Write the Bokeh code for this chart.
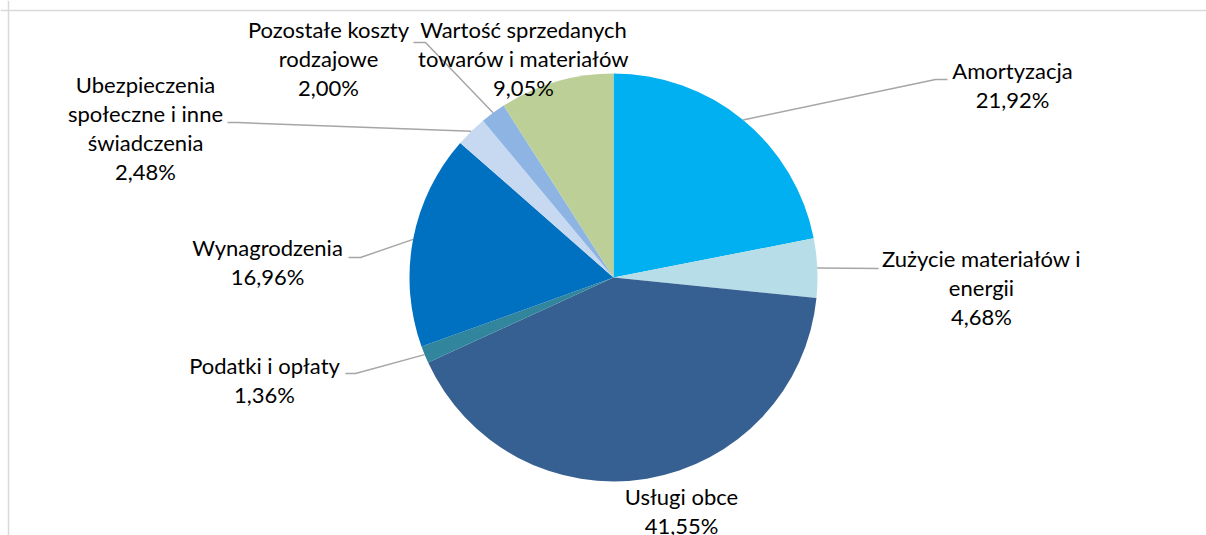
import math
from bokeh.plotting import figure
from bokeh.models import Range1d, ColumnDataSource, Span
from bokeh.core.properties import value
from bokeh.embed import file_html
from bokeh.resources import INLINE

# ---------------- data ----------------
categories = [
    "Amortyzacja",
    "Zużycie materiałów i energii",
    "Usługi obce",
    "Podatki i opłaty",
    "Wynagrodzenia",
    "Ubezpieczenia społeczne i inne świadczenia",
    "Pozostałe koszty rodzajowe",
    "Wartość sprzedanych towarów i materiałów",
]
wrapped_labels = [
    ["Amortyzacja"],
    ["Zużycie materiałów i", "energii"],
    ["Usługi obce"],
    ["Podatki i opłaty"],
    ["Wynagrodzenia"],
    ["Ubezpieczenia", "społeczne i inne", "świadczenia"],
    ["Pozostałe koszty", "rodzajowe"],
    ["Wartość sprzedanych", "towarów i materiałów"],
]
shares = [21.92, 4.68, 41.55, 1.36, 16.96, 2.48, 2.00, 9.05]
colors = ["#00B0F0", "#B7DEE8", "#376092", "#31859C",
          "#0070C0", "#C6D9F1", "#8EB4E3", "#BCCF97"]

# ---------------- layout (screen pixels) ----------------
W, H = 1206, 535


def Y(sy):
    return H - sy


CX, CY, R = 613, 277, 204
LINE_H = 29
TEXT_DY = -2
FONT = "Lato"
FONT_SIZE = "22px"

# label block: centre x, centre y of first line
label_pos = [
    (1012, 72),
    (981, 260),
    (681, 498),
    (264, 367),
    (267, 249),
    (145, 86),
    (328, 31),
    (523, 31),
]
# leader line points from label side (None = no leader)
leaders = [
    [(947, 79), (935, 79)],
    [(878, 268)],
    None,
    [(345, 373), (355, 373)],
    [(348, 257), (360, 257)],
    [(227, 122), (237, 122)],
    [(413, 42), (425, 42)],
    None,
]

p = figure(width=W, height=H, x_range=Range1d(0, W), y_range=Range1d(0, H),
           output_backend="svg", toolbar_location=None, min_border=0,
           x_axis_type=None, y_axis_type=None)
p.grid.visible = False
p.outline_line_color = None
p.background_fill_color = "white"
p.border_fill_color = "white"

# chart border (cropped: only top and left visible)
p.add_layout(Span(location=Y(10), dimension="width", line_color="#D9D9D9", line_width=1.5))
p.add_layout(Span(location=8, dimension="height", line_color="#D9D9D9", line_width=1.5))

# wedges
total = sum(shares)
starts, ends, mids = [], [], []
cum = 0.0
for s in shares:
    a0 = cum / total
    cum += s
    a1 = cum / total
    starts.append(math.pi / 2 - 2 * math.pi * a0)
    ends.append(math.pi / 2 - 2 * math.pi * a1)
    mids.append(2 * math.pi * (a0 + a1) / 2)

src = ColumnDataSource(dict(start=starts, end=ends, color=colors, name=categories, share=shares))
p.wedge(x=CX, y=Y(CY), radius=R, start_angle="start", end_angle="end",
        direction="clock", fill_color="color", line_color=None, source=src)

# leader lines
for i, pts in enumerate(leaders):
    if not pts:
        continue
    th = mids[i]
    ax = CX + R * math.sin(th)
    ay = Y(CY) + R * math.cos(th)
    xs = [x for x, _ in pts] + [ax]
    ys = [Y(y) for _, y in pts] + [ay]
    p.line(xs, ys, line_color="#A6A6A6", line_width=1.5)

# labels
tx, ty, tt = [], [], []
for i, lines in enumerate(wrapped_labels):
    pct = f"{shares[i]:.2f}%".replace(".", ",")
    all_lines = lines + [pct]
    lx, ly = label_pos[i]
    for k, t in enumerate(all_lines):
        tx.append(lx)
        ty.append(Y(ly + k * LINE_H + TEXT_DY))
        tt.append(t)

p.text(x=tx, y=ty, text=tt, text_align="center", text_baseline="middle",
       text_font=value(FONT), text_font_size=FONT_SIZE, text_color="#000000")

open("out.html", "w").write(file_html(p, INLINE))
